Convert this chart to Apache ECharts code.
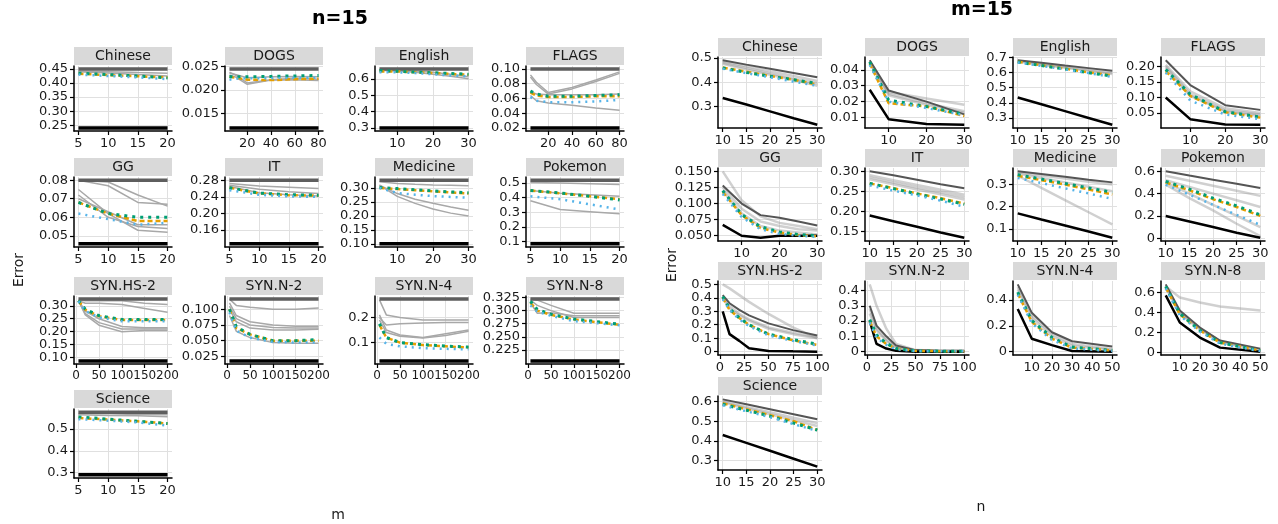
<!DOCTYPE html>
<html>
<head>
<meta charset="utf-8">
<script src="https://cdn.jsdelivr.net/npm/echarts@6.0.0/dist/echarts.min.js"></script>
<style>
html, body { margin: 0; padding: 0; background: #fff; }
#chart { width: 1278px; height: 524px; }
</style>
</head>
<body>
<div id="chart"></div>
<script>
// ---------- data: left block "n=15" (x = m) ----------
var mShort = [5, 10, 15, 20];
var mMid = [5, 10, 15, 20, 25, 30];
var mLong = [5, 10, 20, 40, 60, 80];
var mSyn = [5, 20, 50, 100, 150, 200];

var n15ChineseDark = [0.45, 0.45, 0.45, 0.45];
var n15ChineseBlack = [0.24, 0.24, 0.24, 0.24];
var n15ChineseGray = [[0.442, 0.44, 0.437, 0.435], [0.44, 0.436, 0.43, 0.425]];
var n15ChineseOurs = [[0.433, 0.428, 0.424, 0.42], [0.435, 0.43, 0.425, 0.418], [0.43, 0.425, 0.42, 0.414]];

var n15DogsDark = [0.0245, 0.0245, 0.0245, 0.0245, 0.0245, 0.0245];
var n15DogsBlack = [0.0118, 0.0118, 0.0118, 0.0118, 0.0118, 0.0118];
var n15DogsGray = [[0.0238, 0.0232, 0.0215, 0.0222, 0.0225, 0.0223], [0.0232, 0.0228, 0.0212, 0.0221, 0.0222, 0.022], [0.0236, 0.0233, 0.0226, 0.0228, 0.0229, 0.0228]];
var n15DogsOurs = [[0.0228, 0.0226, 0.0222, 0.0221, 0.0223, 0.0224], [0.0229, 0.0228, 0.0228, 0.0229, 0.023, 0.0231], [0.0222, 0.0224, 0.0225, 0.0225, 0.0226, 0.0226]];

var n15EnglishDark = [0.66, 0.66, 0.66, 0.66, 0.66, 0.66];
var n15EnglishBlack = [0.30, 0.30, 0.30, 0.30, 0.30, 0.30];
var n15EnglishGray = [[0.656, 0.652, 0.647, 0.64, 0.628, 0.612], [0.652, 0.648, 0.64, 0.628, 0.615, 0.6]];
var n15EnglishOurs = [[0.645, 0.645, 0.64, 0.636, 0.63, 0.625], [0.65, 0.646, 0.641, 0.637, 0.632, 0.628], [0.64, 0.64, 0.635, 0.628, 0.62, 0.615]];

var n15FlagsDark = [0.10, 0.10, 0.10, 0.10, 0.10, 0.10];
var n15FlagsBlack = [0.02, 0.02, 0.02, 0.02, 0.02, 0.02];
var n15FlagsGray = [[0.092, 0.082, 0.068, 0.075, 0.085, 0.096], [0.089, 0.079, 0.066, 0.073, 0.083, 0.094], [0.064, 0.057, 0.054, 0.051, 0.047, 0.044], [0.07, 0.066, 0.065, 0.065, 0.065, 0.066]];
var n15FlagsOurs = [[0.068, 0.064, 0.062, 0.062, 0.063, 0.063], [0.07, 0.066, 0.063, 0.063, 0.064, 0.065], [0.062, 0.057, 0.055, 0.055, 0.056, 0.058]];

var n15GgDark = [0.08, 0.08, 0.08, 0.08];
var n15GgBlack = [0.0457, 0.0457, 0.0457, 0.0457];
var n15GgGray = [[0.08, 0.079, 0.072, 0.066], [0.08, 0.077, 0.068, 0.067], [0.075, 0.062, 0.053, 0.052], [0.072, 0.06, 0.055, 0.054], [0.07, 0.063, 0.056, 0.056]];
var n15GgOurs = [[0.068, 0.062, 0.058, 0.058], [0.068, 0.062, 0.06, 0.06], [0.062, 0.059, 0.056, 0.057]];

var n15ItDark = [0.28, 0.28, 0.28, 0.28];
var n15ItBlack = [0.127, 0.127, 0.127, 0.127];
var n15ItGray = [[0.272, 0.266, 0.263, 0.26], [0.268, 0.258, 0.252, 0.248], [0.265, 0.25, 0.245, 0.242]];
var n15ItOurs = [[0.262, 0.248, 0.244, 0.243], [0.262, 0.249, 0.245, 0.244], [0.256, 0.245, 0.241, 0.24]];

var n15MedicineDark = [0.328, 0.328, 0.328, 0.328, 0.328, 0.328];
var n15MedicineBlack = [0.10, 0.10, 0.10, 0.10, 0.10, 0.10];
var n15MedicineGray = [[0.322, 0.316, 0.313, 0.311, 0.31, 0.308], [0.31, 0.28, 0.26, 0.245, 0.232, 0.22], [0.31, 0.27, 0.245, 0.225, 0.21, 0.2]];
var n15MedicineOurs = [[0.3, 0.296, 0.292, 0.288, 0.284, 0.28], [0.302, 0.298, 0.294, 0.29, 0.286, 0.283], [0.3, 0.282, 0.276, 0.271, 0.268, 0.265]];

var n15PokemonDark = [0.52, 0.52, 0.52, 0.52];
var n15PokemonBlack = [0.085, 0.085, 0.085, 0.085];
var n15PokemonGray = [[0.505, 0.5, 0.495, 0.49], [0.45, 0.43, 0.42, 0.41], [0.38, 0.32, 0.305, 0.29]];
var n15PokemonOurs = [[0.45, 0.43, 0.41, 0.39], [0.45, 0.432, 0.41, 0.385], [0.41, 0.39, 0.355, 0.32]];

var n15Hs2Dark = [0.326, 0.326, 0.326, 0.326, 0.326, 0.326];
var n15Hs2Black = [0.087, 0.087, 0.087, 0.087, 0.087, 0.087];
var n15Hs2Gray = [[0.322, 0.32, 0.32, 0.32, 0.31, 0.305], [0.32, 0.31, 0.31, 0.305, 0.29, 0.275], [0.32, 0.27, 0.235, 0.21, 0.21, 0.21], [0.32, 0.28, 0.25, 0.22, 0.215, 0.215], [0.32, 0.265, 0.225, 0.2, 0.205, 0.205]];
var n15Hs2Ours = [[0.32, 0.285, 0.26, 0.245, 0.245, 0.245], [0.32, 0.287, 0.262, 0.247, 0.247, 0.247], [0.318, 0.28, 0.255, 0.24, 0.24, 0.24]];

var n15N2Dark = [0.116, 0.116, 0.116, 0.116, 0.116, 0.116];
var n15N2Black = [0.018, 0.018, 0.018, 0.018, 0.018, 0.018];
var n15N2Gray = [[0.116, 0.106, 0.103, 0.1, 0.1, 0.102], [0.11, 0.09, 0.08, 0.075, 0.073, 0.073], [0.105, 0.085, 0.075, 0.071, 0.07, 0.07], [0.1, 0.08, 0.07, 0.067, 0.067, 0.068], [0.09, 0.065, 0.055, 0.047, 0.046, 0.046]];
var n15N2Ours = [[0.1, 0.07, 0.06, 0.05, 0.05, 0.05], [0.1, 0.072, 0.06, 0.05, 0.05, 0.052], [0.095, 0.066, 0.055, 0.048, 0.047, 0.047]];

var n15N4Dark = [0.273, 0.273, 0.273, 0.273, 0.273, 0.273];
var n15N4Black = [0.027, 0.027, 0.027, 0.027, 0.027, 0.027];
var n15N4Gray = [[0.27, 0.21, 0.2, 0.19, 0.19, 0.19], [0.2, 0.17, 0.175, 0.178, 0.18, 0.18], [0.21, 0.15, 0.13, 0.12, 0.135, 0.15], [0.19, 0.14, 0.125, 0.118, 0.128, 0.145]];
var n15N4Ours = [[0.17, 0.12, 0.1, 0.09, 0.085, 0.08], [0.175, 0.12, 0.1, 0.092, 0.086, 0.082], [0.12, 0.095, 0.085, 0.078, 0.075, 0.073]];

var n15N8Dark = [0.322, 0.322, 0.322, 0.322, 0.322, 0.322];
var n15N8Black = [0.204, 0.204, 0.204, 0.204, 0.204, 0.204];
var n15N8Gray = [[0.322, 0.32, 0.31, 0.295, 0.295, 0.295], [0.315, 0.295, 0.296, 0.29, 0.29, 0.29], [0.32, 0.31, 0.3, 0.287, 0.287, 0.287]];
var n15N8Ours = [[0.315, 0.3, 0.292, 0.283, 0.278, 0.273], [0.318, 0.302, 0.293, 0.284, 0.279, 0.274], [0.31, 0.298, 0.29, 0.28, 0.276, 0.272]];

var n15ScienceDark = [0.577, 0.577, 0.577, 0.577];
var n15ScienceBlack = [0.29, 0.29, 0.29, 0.29];
var n15ScienceGray = [[0.57, 0.57, 0.566, 0.565], [0.565, 0.562, 0.56, 0.556]];
var n15ScienceOurs = [[0.55, 0.543, 0.535, 0.525], [0.555, 0.545, 0.535, 0.525], [0.545, 0.538, 0.53, 0.515]];

// ---------- data: right block "m=15" (x = n) ----------
var nShort = [10, 15, 20, 25, 30];
var nDogs = [5, 10, 20, 30];
var nFlags = [3, 10, 20, 30];
var nGg = [5, 10, 15, 20, 25, 30];
var nSyn = [3, 10, 20, 30, 50, 75, 100];
var nSynB = [3, 10, 20, 30, 50];

var m15ChineseDark = [0.49, 0.472, 0.455, 0.438, 0.42];
var m15ChineseBlack = [0.335, 0.308, 0.28, 0.252, 0.225];
var m15ChineseGray = [[0.485, 0.465, 0.445, 0.425, 0.405], [0.48, 0.458, 0.436, 0.414, 0.395], [0.475, 0.452, 0.43, 0.41, 0.385]];
var m15ChineseOurs = [[0.46, 0.443, 0.425, 0.41, 0.39], [0.458, 0.44, 0.424, 0.41, 0.395], [0.455, 0.437, 0.42, 0.402, 0.385]];

var m15DogsDark = [0.046, 0.027, 0.02, 0.012];
var m15DogsBlack = [0.0275, 0.009, 0.006, 0.0055];
var m15DogsGray = [[0.045, 0.026, 0.022, 0.018], [0.044, 0.025, 0.019, 0.014], [0.045, 0.024, 0.018, 0.013]];
var m15DogsOurs = [[0.044, 0.019, 0.017, 0.011], [0.045, 0.021, 0.017, 0.012], [0.043, 0.02, 0.016, 0.0115]];

var m15EnglishDark = [0.68, 0.663, 0.645, 0.628, 0.61];
var m15EnglishBlack = [0.435, 0.39, 0.345, 0.3, 0.255];
var m15EnglishGray = [[0.675, 0.655, 0.635, 0.615, 0.598], [0.672, 0.65, 0.63, 0.61, 0.59]];
var m15EnglishOurs = [[0.67, 0.647, 0.625, 0.6, 0.58], [0.668, 0.645, 0.622, 0.598, 0.575], [0.665, 0.642, 0.62, 0.595, 0.57]];

var m15FlagsDark = [0.22, 0.14, 0.075, 0.06];
var m15FlagsBlack = [0.1, 0.03, 0.013, 0.012];
var m15FlagsGray = [[0.205, 0.12, 0.065, 0.05], [0.2, 0.11, 0.058, 0.045], [0.195, 0.105, 0.055, 0.04]];
var m15FlagsOurs = [[0.185, 0.105, 0.052, 0.035], [0.19, 0.11, 0.054, 0.037], [0.18, 0.09, 0.045, 0.03]];

var m15GgDark = [0.128, 0.1, 0.082, 0.078, 0.072, 0.066];
var m15GgBlack = [0.067, 0.05, 0.047, 0.05, 0.05, 0.05];
var m15GgGray = [[0.15, 0.105, 0.08, 0.07, 0.065, 0.06], [0.125, 0.092, 0.072, 0.065, 0.06, 0.058], [0.12, 0.085, 0.065, 0.058, 0.055, 0.052]];
var m15GgOurs = [[0.118, 0.082, 0.062, 0.055, 0.051, 0.049], [0.12, 0.083, 0.064, 0.056, 0.052, 0.05], [0.115, 0.079, 0.06, 0.053, 0.05, 0.048]];

var m15ItDark = [0.3, 0.29, 0.279, 0.268, 0.258];
var m15ItBlack = [0.19, 0.176, 0.162, 0.148, 0.135];
var m15ItGray = [[0.29, 0.278, 0.266, 0.254, 0.242], [0.285, 0.272, 0.26, 0.248, 0.236], [0.28, 0.268, 0.255, 0.243, 0.23]];
var m15ItOurs = [[0.27, 0.258, 0.245, 0.233, 0.22], [0.27, 0.257, 0.244, 0.231, 0.218], [0.265, 0.252, 0.24, 0.227, 0.212]];

var m15MedicineDark = [0.36, 0.348, 0.335, 0.322, 0.31];
var m15MedicineBlack = [0.17, 0.142, 0.115, 0.088, 0.06];
var m15MedicineGray = [[0.355, 0.341, 0.327, 0.313, 0.3], [0.35, 0.33, 0.31, 0.29, 0.27], [0.34, 0.285, 0.23, 0.175, 0.12]];
var m15MedicineOurs = [[0.34, 0.32, 0.3, 0.278, 0.255], [0.345, 0.325, 0.305, 0.285, 0.265], [0.33, 0.307, 0.283, 0.26, 0.235]];

var m15PokemonDark = [0.6, 0.562, 0.525, 0.488, 0.45];
var m15PokemonBlack = [0.2, 0.15, 0.1, 0.05, 0.005];
var m15PokemonGray = [[0.56, 0.515, 0.47, 0.425, 0.38], [0.52, 0.46, 0.4, 0.34, 0.28], [0.5, 0.4, 0.3, 0.2, 0.1], [0.48, 0.36, 0.25, 0.13, 0.02]];
var m15PokemonOurs = [[0.5, 0.43, 0.35, 0.28, 0.2], [0.51, 0.44, 0.36, 0.29, 0.21], [0.48, 0.39, 0.3, 0.21, 0.12]];

var m15Hs2Dark = [0.42, 0.36, 0.31, 0.27, 0.21, 0.16, 0.12];
var m15Hs2Black = [0.3, 0.13, 0.08, 0.025, 0.005, 0.002, 0.0];
var m15Hs2Gray = [[0.5, 0.47, 0.42, 0.37, 0.28, 0.18, 0.1], [0.41, 0.34, 0.28, 0.24, 0.18, 0.14, 0.105], [0.4, 0.32, 0.27, 0.23, 0.17, 0.13, 0.1]];
var m15Hs2Ours = [[0.4, 0.31, 0.25, 0.2, 0.13, 0.085, 0.05], [0.41, 0.32, 0.25, 0.2, 0.13, 0.09, 0.055], [0.39, 0.31, 0.24, 0.19, 0.12, 0.08, 0.045]];

var m15N2Dark = [0.3, 0.17, 0.1, 0.04, 0.01, 0.005, 0.005];
var m15N2Black = [0.2, 0.05, 0.02, 0.005, 0.0, 0.0, 0.0];
var m15N2Gray = [[0.44, 0.3, 0.15, 0.05, 0.01, 0.005, 0.005], [0.28, 0.15, 0.08, 0.03, 0.005, 0.003, 0.003], [0.25, 0.14, 0.07, 0.025, 0.005, 0.003, 0.003]];
var m15N2Ours = [[0.2, 0.1, 0.05, 0.02, 0.005, 0.003, 0.003], [0.21, 0.11, 0.055, 0.02, 0.005, 0.003, 0.003], [0.19, 0.09, 0.045, 0.015, 0.004, 0.002, 0.002]];

var m15N4Dark = [0.52, 0.3, 0.15, 0.08, 0.04];
var m15N4Black = [0.33, 0.1, 0.05, 0.005, 0.0];
var m15N4Gray = [[0.5, 0.28, 0.14, 0.06, 0.02], [0.48, 0.26, 0.12, 0.045, 0.012]];
var m15N4Ours = [[0.45, 0.23, 0.1, 0.03, 0.01], [0.46, 0.24, 0.11, 0.035, 0.01], [0.44, 0.22, 0.09, 0.025, 0.005]];

var m15N8Dark = [0.68, 0.42, 0.25, 0.12, 0.04];
var m15N8Black = [0.57, 0.3, 0.15, 0.05, 0.01];
var m15N8Gray = [[0.66, 0.55, 0.5, 0.46, 0.42], [0.66, 0.4, 0.24, 0.11, 0.03], [0.65, 0.39, 0.23, 0.1, 0.025]];
var m15N8Ours = [[0.65, 0.38, 0.22, 0.1, 0.02], [0.66, 0.39, 0.22, 0.1, 0.02], [0.64, 0.37, 0.21, 0.09, 0.015]];

var m15ScienceDark = [0.61, 0.585, 0.56, 0.535, 0.51];
var m15ScienceBlack = [0.43, 0.39, 0.35, 0.31, 0.27];
var m15ScienceGray = [[0.6, 0.572, 0.545, 0.517, 0.49], [0.595, 0.565, 0.535, 0.505, 0.475]];
var m15ScienceOurs = [[0.59, 0.56, 0.53, 0.5, 0.455], [0.585, 0.555, 0.525, 0.49, 0.455], [0.58, 0.55, 0.52, 0.485, 0.45]];

// ---------- tick labels ----------
var panelNames = ['Chinese', 'DOGS', 'English', 'FLAGS', 'GG', 'IT', 'Medicine', 'Pokemon', 'SYN.HS-2', 'SYN.N-2', 'SYN.N-4', 'SYN.N-8', 'Science'];

var n15XTicks = [[5, 10, 15, 20], [20, 40, 60, 80], [10, 20, 30], [20, 40, 60, 80], [5, 10, 15, 20], [5, 10, 15, 20], [10, 20, 30], [5, 10, 15, 20],
  [0, 50, 100, 150, 200], [0, 50, 100, 150, 200], [0, 50, 100, 150, 200], [0, 50, 100, 150, 200], [5, 10, 15, 20]];
var n15YTicks = [[0.25, 0.30, 0.35, 0.40, 0.45], [0.015, 0.020, 0.025], [0.3, 0.4, 0.5, 0.6], [0.02, 0.04, 0.06, 0.08, 0.10],
  [0.05, 0.06, 0.07, 0.08], [0.16, 0.20, 0.24, 0.28], [0.10, 0.15, 0.20, 0.25, 0.30], [0.1, 0.2, 0.3, 0.4, 0.5],
  [0.10, 0.15, 0.20, 0.25, 0.30], [0.025, 0.050, 0.075, 0.100], [0.1, 0.2], [0.225, 0.250, 0.275, 0.300, 0.325], [0.3, 0.4, 0.5]];

var m15XTicks = [[10, 15, 20, 25, 30], [10, 20, 30], [10, 15, 20, 25, 30], [10, 20, 30], [10, 20, 30], [10, 15, 20, 25, 30], [10, 15, 20, 25, 30], [10, 15, 20, 25, 30],
  [0, 25, 50, 75, 100], [0, 25, 50, 75, 100], [0, 10, 20, 30, 40, 50], [0, 10, 20, 30, 40, 50], [10, 15, 20, 25, 30]];
var m15YTicks = [[0.3, 0.4, 0.5], [0.01, 0.02, 0.03, 0.04], [0.3, 0.4, 0.5, 0.6, 0.7], [0.05, 0.10, 0.15, 0.20],
  [0.05, 0.075, 0.1, 0.125, 0.15], [0.15, 0.2, 0.25, 0.3], [0.1, 0.2, 0.3], [0, 0.2, 0.4, 0.6],
  [0, 0.1, 0.2, 0.3, 0.4, 0.5], [0, 0.1, 0.2, 0.3, 0.4], [0, 0.2, 0.4], [0, 0.2, 0.4, 0.6], [0.3, 0.4, 0.5, 0.6]];

// panels: [x, dark, black, grays, ours]
var n15Panels = [
  [mShort, n15ChineseDark, n15ChineseBlack, n15ChineseGray, n15ChineseOurs],
  [mLong, n15DogsDark, n15DogsBlack, n15DogsGray, n15DogsOurs],
  [mMid, n15EnglishDark, n15EnglishBlack, n15EnglishGray, n15EnglishOurs],
  [mLong, n15FlagsDark, n15FlagsBlack, n15FlagsGray, n15FlagsOurs],
  [mShort, n15GgDark, n15GgBlack, n15GgGray, n15GgOurs],
  [mShort, n15ItDark, n15ItBlack, n15ItGray, n15ItOurs],
  [mMid, n15MedicineDark, n15MedicineBlack, n15MedicineGray, n15MedicineOurs],
  [mShort, n15PokemonDark, n15PokemonBlack, n15PokemonGray, n15PokemonOurs],
  [mSyn, n15Hs2Dark, n15Hs2Black, n15Hs2Gray, n15Hs2Ours],
  [mSyn, n15N2Dark, n15N2Black, n15N2Gray, n15N2Ours],
  [mSyn, n15N4Dark, n15N4Black, n15N4Gray, n15N4Ours],
  [mSyn, n15N8Dark, n15N8Black, n15N8Gray, n15N8Ours],
  [mShort, n15ScienceDark, n15ScienceBlack, n15ScienceGray, n15ScienceOurs]
];
var m15Panels = [
  [nShort, m15ChineseDark, m15ChineseBlack, m15ChineseGray, m15ChineseOurs],
  [nDogs, m15DogsDark, m15DogsBlack, m15DogsGray, m15DogsOurs],
  [nShort, m15EnglishDark, m15EnglishBlack, m15EnglishGray, m15EnglishOurs],
  [nFlags, m15FlagsDark, m15FlagsBlack, m15FlagsGray, m15FlagsOurs],
  [nGg, m15GgDark, m15GgBlack, m15GgGray, m15GgOurs],
  [nShort, m15ItDark, m15ItBlack, m15ItGray, m15ItOurs],
  [nShort, m15MedicineDark, m15MedicineBlack, m15MedicineGray, m15MedicineOurs],
  [nShort, m15PokemonDark, m15PokemonBlack, m15PokemonGray, m15PokemonOurs],
  [nSyn, m15Hs2Dark, m15Hs2Black, m15Hs2Gray, m15Hs2Ours],
  [nSyn, m15N2Dark, m15N2Black, m15N2Gray, m15N2Ours],
  [nSynB, m15N4Dark, m15N4Black, m15N4Gray, m15N4Ours],
  [nSynB, m15N8Dark, m15N8Black, m15N8Gray, m15N8Ours],
  [nShort, m15ScienceDark, m15ScienceBlack, m15ScienceGray, m15ScienceOurs]
];

// ---------- layout ----------
var FONT = 'DejaVu Sans, Verdana, sans-serif';
var leftLayout = { cols: [74, 225, 375, 526], w: 98, tops: [66, 177, 296, 409], bottoms: [131, 247, 364, 478] };
var rightLayout = { cols: [718, 865, 1013, 1161], w: 104, tops: [57, 168, 281, 396], bottoms: [128, 241, 355, 470] };

var oursStyle = [
  { color: '#E69F00', width: 2.5, type: [5, 3] },
  { color: '#009E73', width: 3, type: [3, 5] },
  { color: '#56B4E9', width: 2.5, type: [2, 5] }
];

function decimals(ticks) {
  var d = 0;
  ticks.forEach(function (t) {
    var s = String(t), i = s.indexOf('.');
    if (i >= 0) d = Math.max(d, s.length - i - 1);
  });
  return d;
}

function pairs(xs, ys) {
  return xs.map(function (x, i) { return [x, ys[i]]; });
}

var option = { animation: false, grid: [], xAxis: [], yAxis: [], series: [], graphic: [] };

function addBlock(panels, xTicks, yTicks, lay, isLeft) {
  panels.forEach(function (p, i) {
    var xs = p[0], dark = p[1], black = p[2], grays = p[3], ours = p[4];
    var col = i % 4, row = Math.floor(i / 4);
    var left = lay.cols[col], top = lay.tops[row], h = lay.bottoms[row] - lay.tops[row];
    var gi = option.grid.length;

    var all = [].concat(dark, black);
    grays.forEach(function (g) { all = all.concat(g); });
    ours.forEach(function (g) { all = all.concat(g); });
    var lo = Math.min.apply(null, all), hi = Math.max.apply(null, all);
    var xlo = Math.min.apply(null, xs), xhi = Math.max.apply(null, xs);
    var ypad = (hi - lo) * 0.05, xpad = (xhi - xlo) * 0.05;

    option.grid.push({ left: left, top: top, width: lay.w, height: h, containLabel: false, outerBoundsMode: 'none' });

    var xt = xTicks[i], yt = yTicks[i], dec = decimals(yt);
    // crowded 3-digit labels (0 50 100150200) are packed tightly like the original
    var crowded = isLeft && xt[xt.length - 1] >= 100;
    option.xAxis.push({
      gridIndex: gi, type: 'value', min: xlo - xpad, max: xhi + xpad,
      axisLine: { onZero: false, lineStyle: { color: '#000', width: 1.5 } },
      axisTick: { customValues: xt, length: 4, lineStyle: { color: '#000', width: 1.2 } },
      axisLabel: { customValues: xt, margin: 6, color: '#1a1a1a', fontSize: crowded ? 12 : 13, fontFamily: FONT,
        showMinLabel: true, showMaxLabel: true, hideOverlap: false,
        width: crowded ? 18 : null, overflow: crowded ? 'none' : null,
        formatter: function (v) { return String(Math.round(v)); } },
      splitLine: { show: true, lineStyle: { color: '#e0e0e0', width: 1 } }
    });
    option.yAxis.push({
      gridIndex: gi, type: 'value', min: lo - ypad, max: hi + ypad,
      axisLine: { onZero: false, lineStyle: { color: '#000', width: 1.5 } },
      axisTick: { customValues: yt, length: 4, lineStyle: { color: '#000', width: 1.2 } },
      axisLabel: { customValues: yt, margin: 6, color: '#1a1a1a', fontSize: 13, fontFamily: FONT,
        showMinLabel: true, showMaxLabel: true, hideOverlap: false,
        formatter: function (v) { return Math.abs(v) < 1e-12 ? '0' : (+v).toFixed(dec); } },
      splitLine: { show: true, lineStyle: { color: '#e0e0e0', width: 1 } }
    });

    grays.forEach(function (g) {
      option.series.push({ type: 'line', xAxisIndex: gi, yAxisIndex: gi, data: pairs(xs, g), symbol: 'none', silent: true,
        lineStyle: isLeft ? { color: '#a8a8a8', width: 1.5 } : { color: 'rgba(150,150,150,0.45)', width: 2.5 } });
    });
    option.series.push({ type: 'line', xAxisIndex: gi, yAxisIndex: gi, data: pairs(xs, dark), symbol: 'none', silent: true,
      lineStyle: isLeft ? { color: '#5e5e5e', width: 3.5 } : { color: '#555', width: 2 } });
    option.series.push({ type: 'line', xAxisIndex: gi, yAxisIndex: gi, data: pairs(xs, black), symbol: 'none', silent: true,
      lineStyle: { color: '#000', width: isLeft ? 3.5 : 2.5 } });
    ours.forEach(function (g, k) {
      option.series.push({ type: 'line', xAxisIndex: gi, yAxisIndex: gi, data: pairs(xs, g), symbol: 'none', silent: true,
        lineStyle: { color: oursStyle[k].color, width: oursStyle[k].width, type: oursStyle[k].type, cap: 'butt' } });
    });

    // facet strip
    option.graphic.push({ type: 'rect', shape: { x: left, y: top - 19, width: lay.w, height: 18 }, style: { fill: '#d9d9d9' }, silent: true });
    option.graphic.push({ type: 'text', x: left + lay.w / 2, y: top - 10, silent: true,
      style: { text: panelNames[i], fill: '#1a1a1a', font: '14px ' + FONT, align: 'center', verticalAlign: 'middle' } });
  });
}

addBlock(n15Panels, n15XTicks, n15YTicks, leftLayout, true);
addBlock(m15Panels, m15XTicks, m15YTicks, rightLayout, false);

// block titles and axis titles
option.graphic.push(
  { type: 'text', x: 340, y: 19, style: { text: 'n=15', fill: '#000', font: 'bold 19px ' + FONT, align: 'center', verticalAlign: 'middle' } },
  { type: 'text', x: 982, y: 10, style: { text: 'm=15', fill: '#000', font: 'bold 19px ' + FONT, align: 'center', verticalAlign: 'middle' } },
  { type: 'text', x: 19, y: 270, rotation: Math.PI / 2, style: { text: 'Error', fill: '#1a1a1a', font: '14px ' + FONT, align: 'center', verticalAlign: 'middle' } },
  { type: 'text', x: 672, y: 265, rotation: Math.PI / 2, style: { text: 'Error', fill: '#1a1a1a', font: '14px ' + FONT, align: 'center', verticalAlign: 'middle' } },
  { type: 'text', x: 338, y: 515, style: { text: 'm', fill: '#1a1a1a', font: '14px ' + FONT, align: 'center', verticalAlign: 'middle' } },
  { type: 'text', x: 981, y: 507, style: { text: 'n', fill: '#1a1a1a', font: '14px ' + FONT, align: 'center', verticalAlign: 'middle' } }
);

var myChart = echarts.init(document.getElementById('chart'), null, { renderer: 'canvas' });
myChart.setOption(option, true);
</script>
</body>
</html>
